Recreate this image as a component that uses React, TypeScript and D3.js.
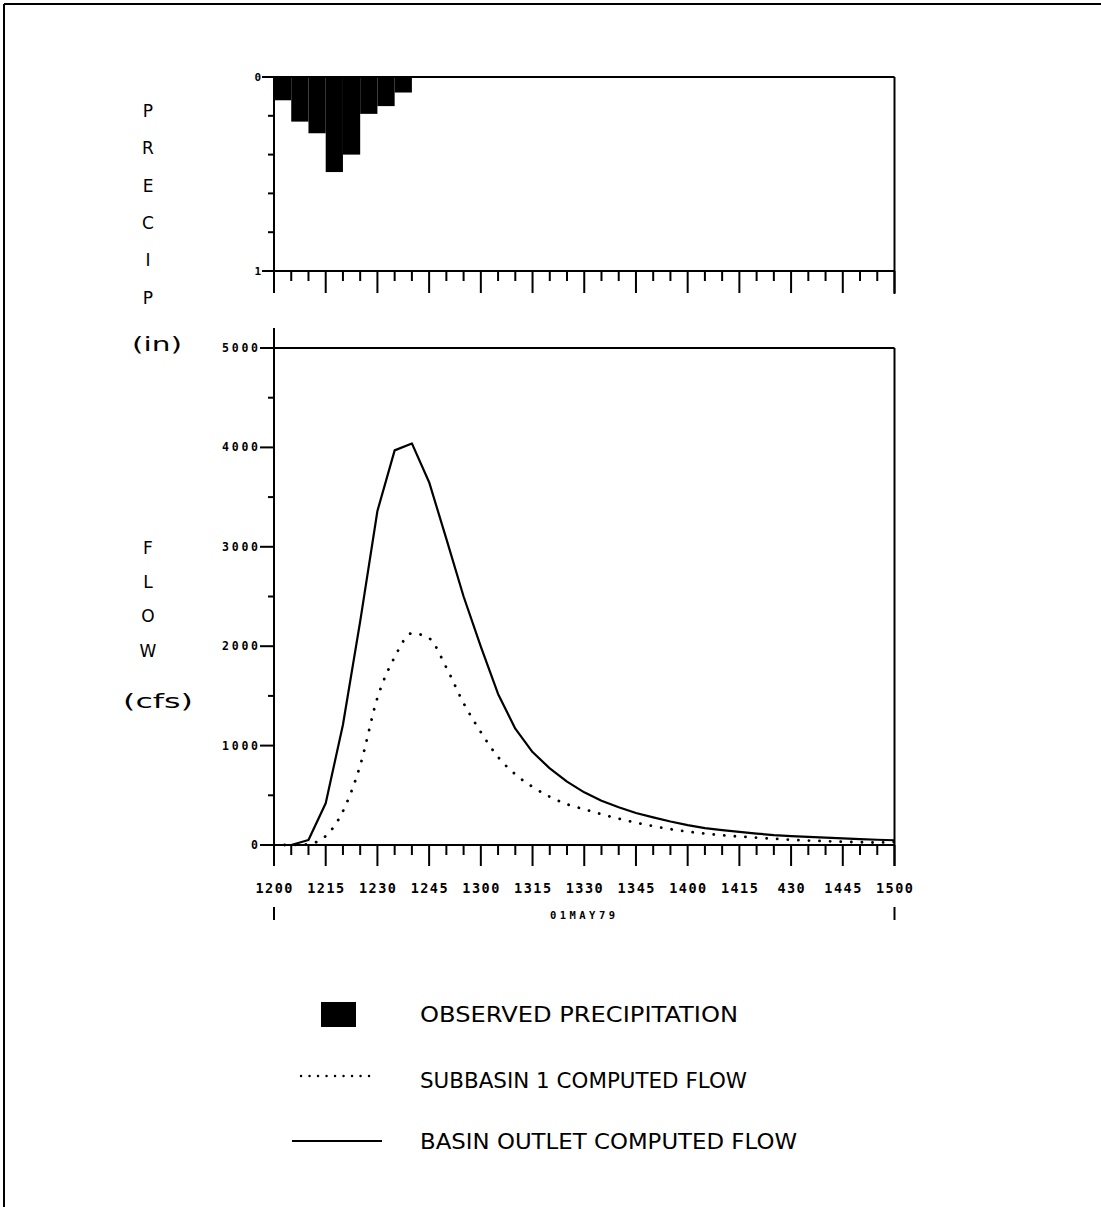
import React from "react";
import * as d3 from "d3";

// ---- data ----
// minutes after 12:00 on 01MAY79
const precipStart = [0, 5, 10, 15, 20, 25, 30, 35];
const precipDepth = [0.12, 0.23, 0.29, 0.49, 0.40, 0.19, 0.15, 0.08]; // inches per 5-min
const flowTimes = [0, 5, 10, 15, 20, 25, 30, 35, 40, 45, 50, 55, 60, 65, 70, 75, 80, 85, 90, 95, 100, 105, 110, 115, 120, 125, 130, 135, 140, 145, 150, 155, 160, 165, 170, 175, 180];
const outletFlow = [0, 0, 50, 420, 1210, 2250, 3360, 3970, 4040, 3650, 3080, 2500, 1995, 1520, 1170, 935, 771, 637, 530, 446, 379, 322, 278, 236, 200, 170, 150, 132, 115, 100, 89, 81, 74, 67, 60, 53, 48];
const subbasinFlow = [0, 0, 10, 90, 340, 800, 1480, 1890, 2130, 2080, 1785, 1427, 1136, 885, 711, 585, 486, 410, 360, 310, 265, 225, 190, 160, 135, 115, 98, 85, 74, 63, 53, 45, 39, 33, 28, 25, 30];
const xTickLabels = ["1200", "1215", "1230", "1245", "1300", "1315", "1330", "1345", "1400", "1415", "430", "1445", "1500"];
const flowTickValues = [0, 1000, 2000, 3000, 4000, 5000];
const flowMinorValues = [500, 1500, 2500, 3500, 4500];
const precipMinorValues = [0.2, 0.4, 0.6, 0.8];
const precipLetters = ["P", "R", "E", "C", "I", "P"];
const flowLetters = ["F", "L", "O", "W"];
const legendItems = ["OBSERVED PRECIPITATION", "SUBBASIN 1 COMPUTED FLOW", "BASIN OUTLET COMPUTED FLOW"];

const W = 1101;
const H = 1207;

export default function App() {
  const x = d3.scaleLinear().domain([0, 180]).range([274, 894.5]);
  const yP = d3.scaleLinear().domain([0, 1]).range([77, 271]);
  const yF = d3.scaleLinear().domain([0, 5000]).range([845, 348]);

  const minorX = d3.range(0, 181, 5);
  const outletPath = d3
    .line<number>()
    .x((_, i) => x(flowTimes[i]))
    .y((d) => yF(d))
    .curve(d3.curveLinear)(outletFlow) as string;
  const subPath = d3
    .line<number>()
    .x((_, i) => x(flowTimes[i]))
    .y((d) => yF(d))
    .curve(d3.curveMonotoneX)(subbasinFlow) as string;

  const left = x(0);
  const right = x(180);
  const axisFont = "'DejaVu Sans Mono', monospace";
  const labelFont = "'DejaVu Sans', sans-serif";

  return (
    <svg
      width={W}
      height={H}
      viewBox={`0 0 ${W} ${H}`}
      style={{ position: "absolute", left: 0, top: 0, background: "#fff" }}
    >
      <rect x={0} y={0} width={W} height={H} fill="#fff" />
      {/* outer frame (top & left visible) */}
      <line x1={4} y1={4} x2={W} y2={4} stroke="#000" strokeWidth={2} />
      <line x1={4} y1={4} x2={4} y2={H} stroke="#000" strokeWidth={2} />

      {/* ---------- PRECIP PANEL ---------- */}
      {precipStart.map((t, i) => (
        <rect
          key={"p" + i}
          x={x(t)}
          y={yP(0)}
          width={x(t + 5) - x(t)}
          height={yP(precipDepth[i]) - yP(0)}
          fill="#000"
        />
      ))}
      <g stroke="#000" strokeWidth={2} fill="none">
        <line x1={left} y1={yP(0)} x2={right} y2={yP(0)} />
        <line x1={left} y1={yP(0) - 1} x2={left} y2={yP(1) + 22} />
        <line x1={right} y1={yP(0)} x2={right} y2={yP(1) + 23} />
        <line x1={left} y1={yP(1)} x2={right} y2={yP(1)} />
        <line x1={left - 12} y1={yP(0)} x2={left} y2={yP(0)} />
        <line x1={left - 12} y1={yP(1)} x2={left} y2={yP(1)} />
        {precipMinorValues.map((v) => (
          <line key={"pm" + v} x1={left - 6} y1={yP(v)} x2={left} y2={yP(v)} />
        ))}
        {minorX.map((t) => (
          <line
            key={"ptx" + t}
            x1={x(t)}
            y1={yP(1)}
            x2={x(t)}
            y2={yP(1) + (t % 15 === 0 ? 22 : 10)}
          />
        ))}
      </g>
      <g fontFamily={axisFont} fontWeight="bold" fontSize={11} fill="#000">
        <text x={left - 13} y={yP(0) + 4} textAnchor="end">0</text>
        <text x={left - 13} y={yP(1) + 4} textAnchor="end">1</text>
      </g>

      {/* ---------- FLOW PANEL ---------- */}
      <g stroke="#000" strokeWidth={2} fill="none">
        <line x1={left} y1={328} x2={left} y2={yF(0) + 21} />
        <line x1={left - 14} y1={yF(5000)} x2={right} y2={yF(5000)} />
        <line x1={right} y1={yF(5000)} x2={right} y2={yF(0) + 21} />
        <line x1={left - 12} y1={yF(0)} x2={right} y2={yF(0)} />
        {flowTickValues.map((v) => (
          <line key={"ft" + v} x1={left - 14} y1={yF(v)} x2={left} y2={yF(v)} />
        ))}
        {flowMinorValues.map((v) => (
          <line key={"fm" + v} x1={left - 6} y1={yF(v)} x2={left} y2={yF(v)} />
        ))}
        {minorX.map((t) => (
          <line
            key={"ftx" + t}
            x1={x(t)}
            y1={yF(0)}
            x2={x(t)}
            y2={yF(0) + (t % 15 === 0 ? 21 : 10)}
          />
        ))}
        <line x1={left} y1={907} x2={left} y2={920} />
        <line x1={right} y1={907} x2={right} y2={920} />
      </g>
      <path d={outletPath} fill="none" stroke="#000" strokeWidth={2.2} strokeLinejoin="round" />
      <path
        d={subPath}
        fill="none"
        stroke="#000"
        strokeWidth={2.8}
        strokeLinecap="round"
        strokeDasharray="0.1 10.5"
      />
      <g fontFamily={axisFont} fontWeight="bold" fontSize={11.5} fill="#000">
        {flowTickValues.map((v) => (
          <text
            key={"fl" + v}
            x={left - 16}
            y={yF(v) + 4}
            textAnchor="end"
            textLength={v === 0 ? undefined : 36}
            lengthAdjust="spacing"
          >
            {String(v)}
          </text>
        ))}
      </g>
      <g fontFamily={axisFont} fontWeight="bold" fontSize={13.5} fill="#000">
        {xTickLabels.map((lab, i) => {
          const cx = x(i * 15);
          const len = lab.length === 4 ? 37 : 27;
          return (
            <text
              key={"xl" + i}
              x={cx - len / 2}
              y={893}
              textLength={len}
              lengthAdjust="spacing"
            >
              {lab}
            </text>
          );
        })}
        <text x={550} y={919} fontSize={10.5} textLength={65} lengthAdjust="spacing">
          01MAY79
        </text>
      </g>

      {/* ---------- axis titles ---------- */}
      <g fontFamily={labelFont} fontSize={17} fill="#000" textAnchor="middle">
        {precipLetters.map((c, i) => (
          <text key={"pl" + i} x={148} y={117 + i * 37.3}>
            {c}
          </text>
        ))}
        <text x={132} y={351} fontSize={20} textLength={50} lengthAdjust="spacingAndGlyphs" textAnchor="start">
          (in)
        </text>
        {flowLetters.map((c, i) => (
          <text key={"flw" + i} x={148} y={554 + i * 34.2}>
            {c}
          </text>
        ))}
        <text x={123} y={708} fontSize={20} textLength={70} lengthAdjust="spacingAndGlyphs" textAnchor="start">
          (cfs)
        </text>
      </g>

      {/* ---------- legend ---------- */}
      <rect x={321} y={1002} width={35} height={25} fill="#000" />
      <line
        x1={301}
        y1={1076}
        x2={377}
        y2={1076}
        stroke="#000"
        strokeWidth={2.4}
        strokeLinecap="round"
        strokeDasharray="0.1 8.4"
      />
      <line x1={292} y1={1141} x2={382} y2={1141} stroke="#000" strokeWidth={1.8} />
      <g fontFamily={labelFont} fontSize={22} fill="#000">
        <text x={420} y={1022} textLength={318} lengthAdjust="spacingAndGlyphs">
          {legendItems[0]}
        </text>
        <text x={420} y={1088} textLength={327} lengthAdjust="spacingAndGlyphs">
          {legendItems[1]}
        </text>
        <text x={420} y={1149} textLength={377} lengthAdjust="spacingAndGlyphs">
          {legendItems[2]}
        </text>
      </g>
    </svg>
  );
}
